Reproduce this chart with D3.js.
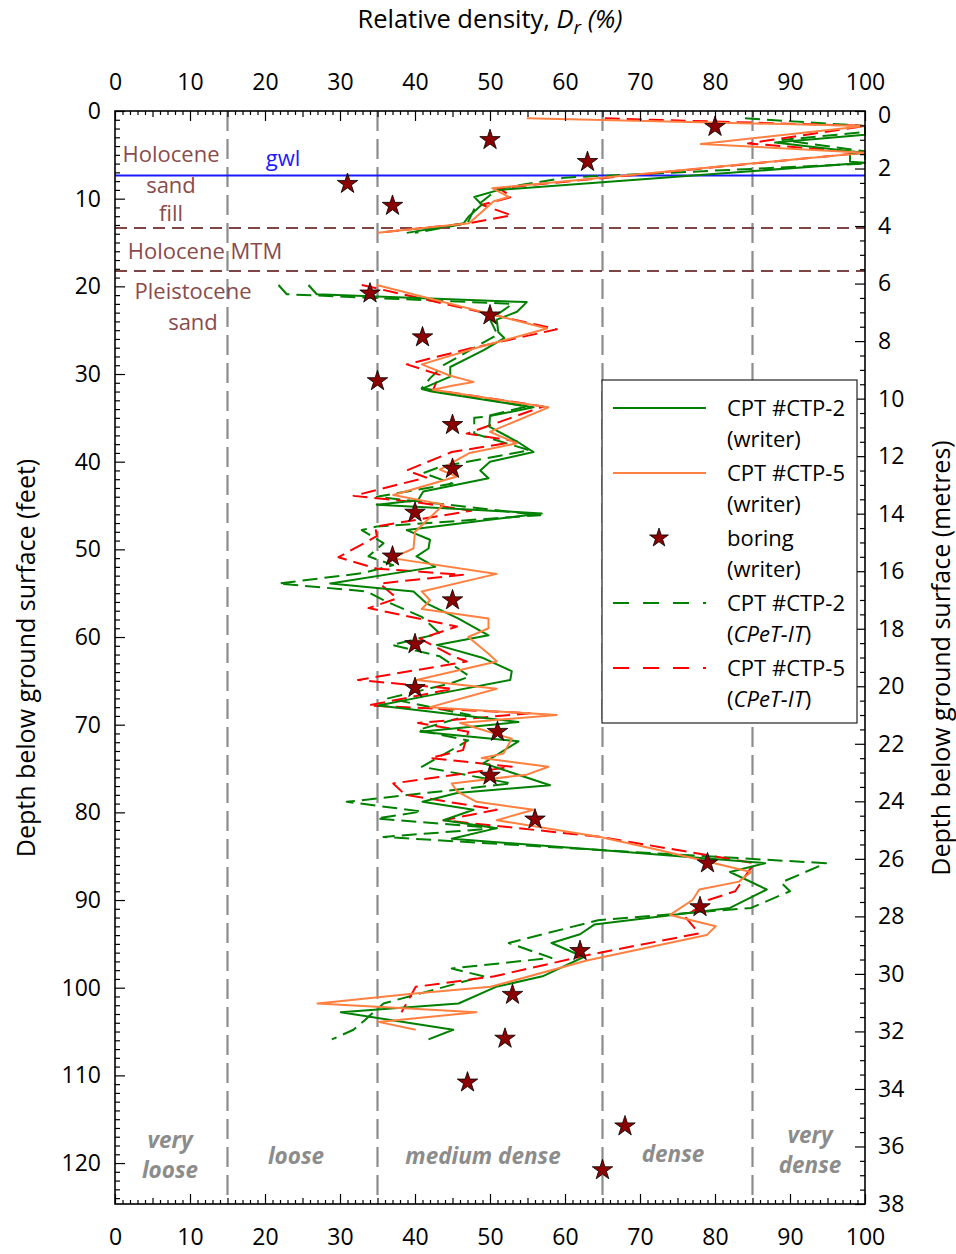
<!DOCTYPE html>
<html>
<head>
<meta charset="utf-8">
<script src="https://cdn.jsdelivr.net/npm/d3@7"></script>
<style>
  body { margin: 0; background: #fff; }
  text { font-family: "Open Sans", sans-serif; }
</style>
</head>
<body>
<div id="chart"></div>
<script>
// depth profiles: [Dr %, depth ft]; null pair = gap in the sounding
const ctp2Writer = [
  [100,1.7],[100,2.7],[88,3.6],[100,4.8],[98,4.9],[98,5.8],[100,5.9],[51.2,9.0],[47.9,9.8],
  [48.9,10.7],[47.2,12.0],[46.5,12.8],[38.9,13.9],[null,null],
  [25.8,19.85],[26.9,20.9],[54.9,21.8],[53.6,22.9],[50.9,23.8],[51.1,25.2],[51.9,25.9],[49.1,27.3],
  [44.7,29.2],[44.7,30.3],[40.9,31.7],[42.2,32.0],[55.8,33.8],[50.0,34.8],[49.9,36.0],[53.6,37.7],
  [55.8,38.9],[50.0,40.0],[48.7,41.0],[49.8,41.9],[41.1,43.4],[40.4,44.4],[34.9,44.9],[56.9,45.9],
  [38.9,47.8],[42.0,48.9],[41.8,49.9],[40.2,50.8],[42.7,52.0],[28.7,53.9],[39.8,54.8],[41.6,56.2],
  [45.8,57.9],[49.8,59.8],[42.9,60.9],[49.1,62.4],[52.9,63.9],[52.7,64.9],[41.1,66.8],[35.1,67.8],
  [53.8,69.7],[40.7,70.8],[53.8,71.9],[49.1,74.4],[58.0,76.9],[45.6,77.8],[41.0,78.8],[47.8,79.7],
  [43.8,80.9],[50.9,81.8],[44.9,83.0],[64.7,84.3],[86.7,85.8],[82.0,86.8],[86.9,88.8],[82.0,90.9],
  [63.9,92.8],[62.0,93.9],[58.2,94.9],[62.5,96.5],[57.0,98.7],[50.8,99.9],[45.8,101.8],[30.1,102.8],
  [45.1,104.8],[41.8,105.9]
];
const ctp5Writer = [
  [54.9,0.84],[100,1.7],[78.1,3.76],[100,4.75],[50.3,8.8],[52.5,9.8],[50.5,10.3],[47.2,12.8],[35,13.9],
  [null,null],
  [34.9,19.85],[57.6,24.8],[48.7,26.9],[40.9,28.9],[44.7,30.2],[47.8,30.9],[45.1,31.3],[42.4,31.8],
  [57.8,33.8],[50.0,36.6],[53.6,37.9],[47.3,39.0],[43.3,40.9],[45.6,41.7],[37.1,43.8],[43.8,44.9],
  [40.0,48.0],[39.8,49.9],[36.9,51.0],[50.9,52.8],[40.9,54.8],[42.0,55.8],[40.9,56.8],[49.8,57.9],
  [49.8,59.0],[47.1,60.0],[49.8,61.9],[50.9,62.8],[40.2,64.9],[50.9,65.9],[42.0,68.0],[58.9,68.9],
  [46.0,69.8],[52.9,71.6],[51.8,73.3],[48.9,73.8],[57.8,74.8],[54.9,75.7],[44.9,76.7],[45.6,77.6],
  [48.2,78.8],[55.8,79.7],[50.9,80.9],[64.7,82.8],[72.5,84.3],[84.8,86.8],[83.2,87.9],[77.9,88.8],
  [77.0,90.0],[74.0,91.7],[80.1,93.0],[78.9,94.0],[62.9,96.9],[50.1,99.9],[39.6,100.7],[27.0,101.8],
  [48.2,102.8],[35.1,103.9],[40.1,104.8]
];
const ctp2Cpet = [
  [84,0.84],[100,1.7],[100,2.4],[89,3.3],[100,4.6],[100,6.0],[60,7.6],[51,8.9],[50,9.6],[48,11],
  [47,12.8],[40,13.9],[null,null],
  [21.8,19.85],[22.9,20.9],[53,22.0],[50,23.8],[51,25.5],[43.8,29.0],[42,30.5],[40.9,31.6],[54.9,33.7],
  [49.1,34.9],[47.9,35.0],[47.9,36.8],[55.3,38.7],[43.3,40.6],[41.1,41.3],[45,42.5],[34.9,44.0],
  [56.7,46.1],[34.9,47.4],[32.9,47.8],[35.8,49.3],[33.8,50.8],[37.1,51.8],[33.1,52.7],[21.8,53.9],
  [33.6,54.8],[35.8,55.8],[40.9,57.7],[43.3,59.6],[36.9,60.9],[43.3,62.2],[47.3,64.5],[44.7,65.3],
  [36.4,67.0],[47.3,68.9],[40.4,70.6],[47.1,71.8],[40.9,74.8],[52.9,76.7],[30.9,78.8],[40.9,79.9],
  [34.9,80.7],[50.9,81.8],[35.8,82.8],[64.7,84.3],[94.8,85.8],[88.8,88.0],[90.0,89.0],[84.8,90.9],
  [64.4,92.3],[52.5,94.9],[58.2,96.6],[44.9,97.8],[49.1,98.7],[35.8,101.8],[33.3,103.7],[31.8,104.8],
  [28.9,105.9]
];
const ctp5Cpet = [
  [65.3,0.84],[100,1.7],[84.4,3.7],[100,4.75],[51.2,8.8],[52.9,9.8],[48.9,10.7],[52.9,11.9],[47.2,12.8],
  [36,13.8],[null,null],
  [32.9,19.85],[58.9,24.9],[47.3,27.1],[38.9,28.9],[43.3,30.1],[42.4,31.8],[57.1,33.7],[46.9,36.8],
  [53.6,37.7],[44.9,38.9],[38.9,41.0],[41.5,41.8],[31.8,43.9],[40.0,44.6],[47.5,45.6],[34.7,47.4],
  [34.9,48.5],[29.8,50.9],[34.9,52.2],[46.4,52.9],[35.3,53.9],[37.6,55.6],[33.8,56.7],[45.6,58.8],
  [40.7,60.2],[45.1,62.2],[46.9,62.8],[32.4,64.9],[45.1,65.9],[33.8,67.8],[55.3,68.7],[40.4,69.8],
  [47.1,70.8],[46.4,72.9],[42.0,73.8],[52.9,74.8],[37.1,76.7],[38.7,78.0],[50.9,79.7],[43.8,80.9],
  [64.7,82.8],[85.3,85.8],[84.4,86.8],[82.7,89.0],[79.1,90.0],[76.0,91.9],[77.9,93.8],[62.9,96.3],
  [50.6,98.7],[40.1,99.9],[38.2,102.8]
];
const boringFt = [1.8,3.3,5.8,8.3,10.8,20.8,23.3,25.8,30.8,35.8,40.8,45.8,50.8,55.8,60.8,65.8,
  70.8,75.8,80.8,85.8,90.8,95.8,100.8,105.8,110.8,115.8,120.8];
const boringDr = [80,50,63,31,37,34,50,41,35,45,45,40,37,45,40,40,51,50,56,79,78,62,53,52,47,68,65];

const classBounds = [15, 35, 65, 85];
const gwlFt = 7.35;
const layerFt = [13.35, 18.25];
const xTicks = d3.range(0, 101, 10);
const ftTicks = d3.range(0, 121, 10);
const mTicks = d3.range(0, 39, 2);

const W = 956, H = 1254;
const M_TO_FT = 1 / 0.3048;
const svg = d3.select("#chart").append("svg").attr("width", W).attr("height", H);

const x = d3.scaleLinear().domain([0, 100]).range([115, 865]);
const y = d3.scaleLinear().domain([0, 38 * M_TO_FT]).range([111, 1204]);
const yM = d3.scaleLinear().domain([0, 38]).range([111, 1204]);

// class boundaries
svg.append("g").selectAll("line").data(classBounds).join("line")
  .attr("x1", d => x(d)).attr("x2", d => x(d))
  .attr("y1", y.range()[0]).attr("y2", y.range()[1])
  .attr("stroke", "#8c8c8c").attr("stroke-width", 2.2).attr("stroke-dasharray", "20,8");

// layer boundaries & gwl
svg.append("g").selectAll("line").data(layerFt).join("line")
  .attr("x1", x(0)).attr("x2", x(100)).attr("y1", d => y(d)).attr("y2", d => y(d))
  .attr("stroke", "#7f4545").attr("stroke-width", 2).attr("stroke-dasharray", "12,7");
svg.append("line").attr("x1", x(0)).attr("x2", x(100)).attr("y1", y(gwlFt)).attr("y2", y(gwlFt))
  .attr("stroke", "#1a1aff").attr("stroke-width", 2);
svg.append("text").attr("x", 283).attr("y", 166).attr("text-anchor", "middle")
  .attr("fill", "#1a1aff").attr("font-size", 22).text("gwl");

const brown = "#8a4b4b";
[["Holocene", 171, 162], ["sand", 171, 193], ["fill", 171, 221], ["Holocene MTM", 205, 259],
 ["Pleistocene", 193, 299], ["sand", 193, 330]].forEach(([t, tx, ty]) => {
  svg.append("text").attr("x", tx).attr("y", ty).attr("text-anchor", "middle")
    .attr("fill", brown).attr("font-size", 22).text(t);
});

const grey = "#8c8c8c";
[["very", 170, 1148], ["loose", 170, 1178], ["loose", 296, 1164], ["medium dense", 483, 1164],
 ["dense", 673, 1162], ["very", 810, 1143], ["dense", 810, 1173]].forEach(([t, tx, ty]) => {
  svg.append("text").attr("x", tx).attr("y", ty).attr("text-anchor", "middle")
    .attr("fill", grey).attr("font-size", 22.5).attr("font-weight", "bold")
    .attr("font-style", "italic").text(t);
});

// profiles
const line = d3.line().defined(d => d[0] != null).x(d => x(d[0])).y(d => y(d[1]));
const series = [
  { data: ctp2Cpet, color: "#008000", dash: "15,7" },
  { data: ctp5Cpet, color: "#ff0000", dash: "15,7" },
  { data: ctp2Writer, color: "#008000", dash: null },
  { data: ctp5Writer, color: "#ff8040", dash: null }
];
series.forEach(s => {
  svg.append("path").datum(s.data).attr("d", line)
    .attr("fill", "none").attr("stroke", s.color).attr("stroke-width", 2)
    .attr("stroke-dasharray", s.dash).attr("stroke-linejoin", "round");
});

const star = d3.symbol().type(d3.symbolStar).size(130);
svg.append("g").selectAll("path").data(boringFt).join("path")
  .attr("transform", (d, i) => `translate(${x(boringDr[i])},${y(d)})`)
  .attr("d", star).attr("fill", "#8b0000").attr("stroke", "#000").attr("stroke-width", 0.8);

// axes
function styleAxis(g) {
  g.select(".domain").remove();
  g.selectAll("line").attr("stroke", "#000").attr("stroke-width", 1.2);
  g.selectAll("text").attr("font-size", 23).attr("fill", "#000")
    .attr("font-family", "'Open Sans', sans-serif");
}
const minorX = d3.range(0, 101, 1).filter(d => d % 5 !== 0);
const midX = d3.range(5, 100, 10);
[[d3.axisTop, y.range()[0]], [d3.axisBottom, y.range()[1]]].forEach(([ax, pos]) => {
  svg.append("g").attr("transform", `translate(0,${pos})`)
    .call(ax(x).tickValues(minorX).tickSize(-4).tickFormat("")).call(styleAxis);
  svg.append("g").attr("transform", `translate(0,${pos})`)
    .call(ax(x).tickValues(midX).tickSize(-6).tickFormat("")).call(styleAxis);
});
svg.append("g").attr("transform", `translate(0,${y.range()[0]})`)
  .call(d3.axisTop(x).tickValues(xTicks).tickSize(-10).tickPadding(21)).call(styleAxis);
svg.append("g").attr("transform", `translate(0,${y.range()[1]})`)
  .call(d3.axisBottom(x).tickValues(xTicks).tickSize(-10).tickPadding(25)).call(styleAxis);

svg.append("g").attr("transform", `translate(${x(0)},0)`)
  .call(d3.axisLeft(y).tickValues(d3.range(0, 125, 1).filter(d => d % 10 !== 0)).tickSize(-5).tickFormat(""))
  .call(styleAxis);
svg.append("g").attr("transform", `translate(${x(0)},0)`)
  .call(d3.axisLeft(y).tickValues(ftTicks).tickSize(-10).tickPadding(14)).call(styleAxis);

svg.append("g").attr("transform", `translate(${x(100)},0)`)
  .call(d3.axisRight(yM).tickValues(d3.range(0.5, 38, 1)).tickSize(-5).tickFormat("")).call(styleAxis);
svg.append("g").attr("transform", `translate(${x(100)},0)`)
  .call(d3.axisRight(yM).tickValues(d3.range(1, 38, 2)).tickSize(-5).tickFormat("")).call(styleAxis);
const rightAxis = svg.append("g").attr("transform", `translate(${x(100)},0)`)
  .call(d3.axisRight(yM).tickValues(mTicks).tickSize(-10).tickPadding(13)).call(styleAxis);
// nudge the corner "0" clear of the top "100"
rightAxis.selectAll(".tick text").filter(d => d === 0).attr("y", 4);

svg.append("rect").attr("x", x(0)).attr("y", y.range()[0])
  .attr("width", x(100) - x(0)).attr("height", y.range()[1] - y.range()[0])
  .attr("fill", "none").attr("stroke", "#000").attr("stroke-width", 1.6);

// titles
const title = svg.append("text").attr("x", 490).attr("y", 28).attr("text-anchor", "middle")
  .attr("font-size", 25.5).attr("fill", "#000");
title.append("tspan").text("Relative density, ");
title.append("tspan").attr("font-style", "italic").text("D");
title.append("tspan").attr("font-style", "italic").attr("font-size", 19).attr("dy", 6).text("r");
title.append("tspan").attr("font-style", "italic").attr("dy", -6).text(" (%)");

svg.append("text").attr("transform", "translate(35,658) rotate(-90)").attr("text-anchor", "middle")
  .attr("font-size", 25).text("Depth below ground surface (feet)");
svg.append("text").attr("transform", "translate(950,658) rotate(-90)").attr("text-anchor", "middle")
  .attr("font-size", 25).text("Depth below ground surface (metres)");

// legend
const lg = svg.append("g").attr("transform", "translate(602,380)");
lg.append("rect").attr("width", 255).attr("height", 343)
  .attr("fill", "#fff").attr("stroke", "#222").attr("stroke-width", 1.2);
const legendItems = [
  { label: "CPT #CTP-2", sub: "writer", color: "#008000", dash: null },
  { label: "CPT #CTP-5", sub: "writer", color: "#ff8040", dash: null },
  { label: "boring", sub: "writer", star: true },
  { label: "CPT #CTP-2", sub: "CPeT-IT", color: "#008000", dash: "16,14", it: true },
  { label: "CPT #CTP-5", sub: "CPeT-IT", color: "#ff0000", dash: "16,14", it: true }
];
legendItems.forEach((d, i) => {
  const cy = 28 + i * 65;
  if (d.star) {
    lg.append("path").attr("transform", `translate(57,${cy})`).attr("d", d3.symbol().type(d3.symbolStar).size(110))
      .attr("fill", "#8b0000").attr("stroke", "#000").attr("stroke-width", 0.8);
  } else {
    lg.append("line").attr("x1", 11).attr("x2", 104).attr("y1", cy).attr("y2", cy)
      .attr("stroke", d.color).attr("stroke-width", 2).attr("stroke-dasharray", d.dash);
  }
  lg.append("text").attr("x", 125).attr("y", cy + 8).attr("font-size", 22).text(d.label);
  const t2 = lg.append("text").attr("x", 125).attr("y", cy + 39).attr("font-size", 22);
  t2.append("tspan").text("(");
  t2.append("tspan").attr("font-style", d.it ? "italic" : null).text(d.sub);
  t2.append("tspan").text(")");
});
</script>
</body>
</html>
